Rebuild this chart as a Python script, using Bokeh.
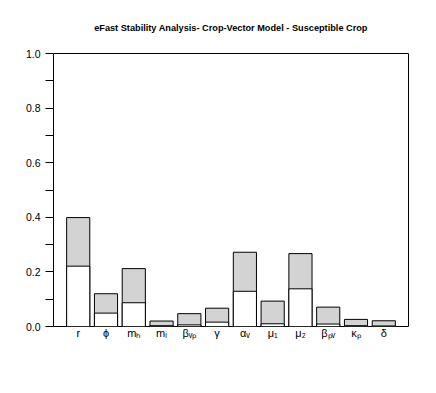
from bokeh.plotting import figure
from bokeh.models import Range1d, FixedTicker, PrintfTickFormatter
from bokeh.embed import file_html
from bokeh.resources import INLINE

# ---- data ----
params = ["r", "ϕ", "mₕ", "mᵢ", "βᵥₚ", "γ", "αᵥ", "μ₁", "μ₂", "βₚᵥ", "κₚ", "δ"]
total_order = [0.399, 0.120, 0.212, 0.020, 0.047, 0.067, 0.272, 0.093, 0.267, 0.071, 0.026, 0.021]
first_order = [0.221, 0.049, 0.087, 0.003, 0.006, 0.016, 0.129, 0.010, 0.138, 0.009, 0.003, 0.002]
y_ticks = [0.0, 0.2, 0.4, 0.6, 0.8, 1.0]
y_minor = [0.1, 0.3, 0.5, 0.7, 0.9]
title = "eFast Stability Analysis- Crop-Vector Model - Susceptible Crop"

n = len(params)
bar_w = 1.0
space = 0.2
x = [round(space + bar_w / 2 + (bar_w + space) * i, 2) for i in range(n)]
lo = space
hi = (bar_w + space) * n
pad = (hi - lo) * 0.04

p = figure(width=436, height=393, output_backend="svg", toolbar_location=None,
           x_range=Range1d(lo - pad, hi + pad), y_range=Range1d(0, 1),
           min_border_left=53, min_border_right=28, min_border_top=53, min_border_bottom=67,
           title=title)
p.title.text_font = "Liberation Sans"
p.title.text_font_size = "9.2px"
p.title.text_font_style = "bold"
p.title.text_color = "black"
p.title.align = "center"
p.title.standoff = 41

p.vbar(x=x, width=bar_w, top=total_order, bottom=0, fill_color="#d3d3d3", line_color="black", line_width=1)
p.vbar(x=x, width=bar_w, top=first_order, bottom=0, fill_color="white", line_color="black", line_width=1)

p.xgrid.visible = False
p.ygrid.visible = False
p.outline_line_color = "black"
p.outline_line_width = 1
p.background_fill_color = "white"
p.border_fill_color = "white"

xa = p.xaxis[0]
xa.ticker = FixedTicker(ticks=x)
xa.major_label_overrides = dict(zip(x, params))
xa.axis_line_color = None
xa.major_tick_line_color = None
xa.minor_tick_line_color = None
xa.major_tick_out = 0
xa.major_tick_in = 0
xa.major_label_standoff = 0
xa.major_label_text_font = "Liberation Sans"
xa.major_label_text_font_size = "11px"
xa.major_label_text_color = "black"

ya = p.yaxis[0]
ya.ticker = FixedTicker(ticks=y_ticks, minor_ticks=y_minor)
ya.formatter = PrintfTickFormatter(format="%.1f")
ya.major_tick_out = 8
ya.major_tick_in = 0
ya.minor_tick_out = 8
ya.minor_tick_in = 0
ya.major_tick_line_color = "black"
ya.minor_tick_line_color = "black"
ya.axis_line_color = "black"
ya.major_label_standoff = 5
ya.major_label_text_font = "Liberation Sans"
ya.major_label_text_font_size = "10.5px"
ya.major_label_text_color = "black"

open("out.html", "w").write(file_html(p, INLINE))
